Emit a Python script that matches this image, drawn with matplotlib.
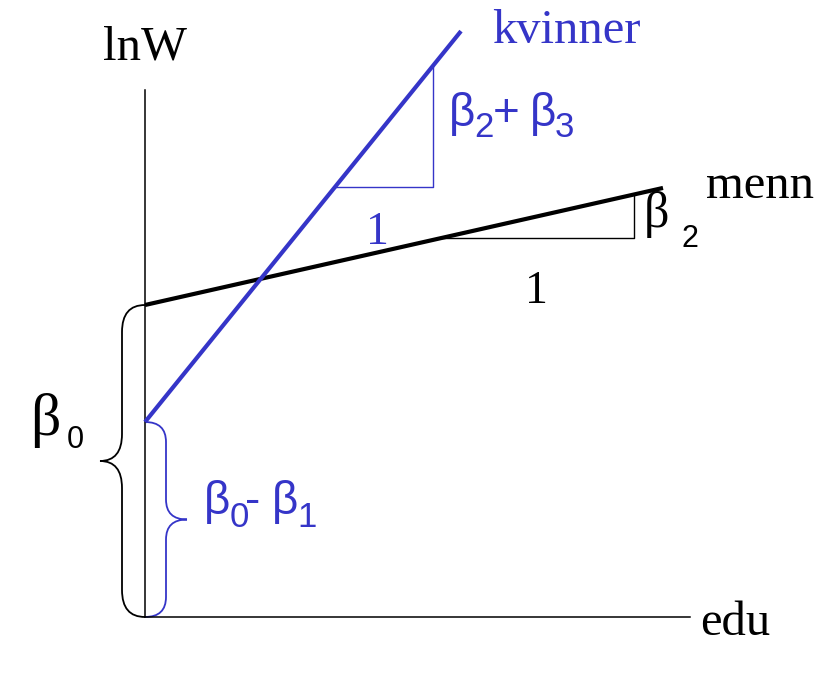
import matplotlib
matplotlib.use("Agg")
import matplotlib.pyplot as plt
from matplotlib.path import Path
from matplotlib.patches import PathPatch

BLUE = "#3535c8"
SERIF = ["Liberation Serif", "DejaVu Serif"]
SANS = ["Liberation Sans", "DejaVu Sans"]

# schematic model: lnW = intercept + slope * edu
groups = ["menn", "kvinner"]
intercepts = [312, 195]
slopes = [0.226, 1.237]
edu_end = [518, 316]
line_colors = ["black", BLUE]

# where the slope triangles sit (start edu, run length)
tri_start = [297, 190]
tri_run = [192, 98]

axis_len_x = 545
axis_len_y = 527


def brace(ax, x0, x1, x2, y_top, y_bot, r, color):
    ym = (y_top + y_bot) / 2
    verts = [(x0, y_top), (x1, y_top), (x1, y_top - r), (x1, ym + r),
             (x1, ym), (x2, ym), (x1, ym), (x1, ym - r),
             (x1, y_bot + r), (x1, y_bot), (x0, y_bot)]
    codes = [Path.MOVETO, Path.CURVE3, Path.CURVE3, Path.LINETO,
             Path.CURVE3, Path.CURVE3, Path.CURVE3, Path.CURVE3,
             Path.LINETO, Path.CURVE3, Path.CURVE3]
    ax.add_patch(PathPatch(Path(verts, codes), fill=False, edgecolor=color, lw=1.3))


fig = plt.figure(figsize=(8.28, 6.8), dpi=100)
ax = fig.add_axes([0, 0, 1, 1])
ax.set_xlim(-145, 683)
ax.set_ylim(-63, 617)
ax.axis("off")

# axes of the diagram
ax.plot([0, 0], [0, axis_len_y], color="black", lw=1.1)
ax.plot([0, axis_len_x], [0, 0], color="black", lw=1.1)

for b0, b1, xe, c, x0, run in zip(intercepts, slopes, edu_end, line_colors, tri_start, tri_run):
    ax.plot([0, xe], [b0, b0 + b1 * xe], color=c, lw=3, solid_capstyle="butt")
    y0 = b0 + b1 * x0
    ax.plot([x0, x0 + run, x0 + run], [y0, y0, y0 + b1 * run], color=c, lw=1.0)

brace(ax, 0, -23, -45, intercepts[0], 0, 27, "black")
brace(ax, 0, 21, 42, intercepts[1], 0, 20, BLUE)

# plain labels
ax.text(-42, 557, "lnW", fontsize=35, family=SERIF, va="baseline")
ax.text(347, 574, "kvinner", fontsize=35, family=SERIF, color=BLUE, va="baseline")
ax.text(561, 419, "menn", fontsize=35, family=SERIF, va="baseline")
ax.text(555, -18, "edu", fontsize=35, family=SERIF, va="baseline")
ax.text(221, 373, "1", fontsize=33, family=SERIF, color=BLUE, va="baseline")
ax.text(380, 314, "1", fontsize=33, family=SERIF, va="baseline")

# beta labels: (text, x, y, size, family, colour)
pieces = [
    ("β", -115, 182, 43, SERIF, "black"), ("0", -78, 169, 22, SANS, "black"),
    ("β", 499, 390, 36, SERIF, "black"), ("2", 537, 370, 22, SANS, "black"),
    ("β", 304, 491, 33, SANS, BLUE), ("2", 329, 480, 25, SANS, BLUE),
    ("+", 348, 491, 33, SANS, BLUE), ("β", 385, 491, 33, SANS, BLUE),
    ("3", 410, 480, 25, SANS, BLUE),
    ("β", 59, 103, 33, SANS, BLUE), ("0", 85, 90, 25, SANS, BLUE),
    ("-", 100, 103, 33, SANS, BLUE), ("β", 127, 103, 33, SANS, BLUE),
    ("1", 152, 90, 25, SANS, BLUE),
]
for s, x, y, size, fam, c in pieces:
    ax.text(x, y, s, fontsize=size, family=fam, color=c, va="baseline")

fig.savefig("out.png", dpi=100)
